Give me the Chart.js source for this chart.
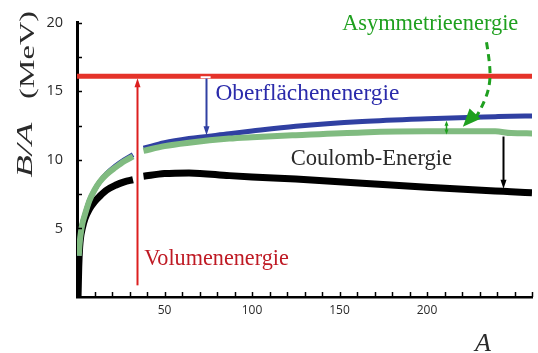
<!DOCTYPE html>
<html lang="de">
<head>
<meta charset="utf-8">
<title>Bindungsenergie pro Nukleon</title>
<script src="https://cdn.jsdelivr.net/npm/chart.js@4.4.1/dist/chart.umd.min.js"></script>
<style>
  html, body { margin: 0; padding: 0; background: #fff; }
  canvas { display: block; }
</style>
</head>
<body>
<canvas id="chartBA" width="538" height="353"></canvas>
<script>
/* ── Daten ──────────────────────────────────────────── */
var MASSENZAHL     = [0.6, 1, 1.5, 2, 3, 4.5, 7, 10, 13, 17, 22, 27, 32, 35, 38, 50, 64, 87, 100, 125, 163, 200, 239, 248, 260];
var GESAMT_BA      = [0, 2.2, 3.6, 4.3, 5.0, 5.7, 6.4, 6.95, 7.35, 7.8, 8.15, 8.4, 8.55, null, 8.8, 9.0, 9.05, 8.85, 8.75, 8.6, 8.3, 8.0, 7.73, 7.68, 7.6];
var OHNE_COULOMB   = [null, 3.0, 3.9, 4.5, 5.3, 6.0, 7.0, 7.8, 8.4, 8.95, 9.45, 9.9, 10.25, null, 10.65, 11.0, 11.25, 11.55, 11.65, 11.8, 12.0, 12.08, 12.08, 11.95, 11.93];
var VOL_OBERFLAECHE = [null, 3.0, 3.9, 4.5, 5.3, 6.0, 7.0, 7.8, 8.4, 9.0, 9.55, 10.0, 10.38, null, 10.85, 11.25, 11.55, 11.9, 12.1, 12.45, 12.8, 13.0, 13.15, 13.18, 13.2];
var VOLUMEN_A      = [0, 260];
var VOLUMEN_BA     = [16.1, 16.1];

var Y_LABELS = [5, 10, 15, 20];
var X_LABELS = [50, 100, 150, 200];

/* ── Farben ─────────────────────────────────────────── */
var ROT        = '#e5332a';
var ROT_PFEIL  = '#dc1f1f';
var ROT_TEXT   = '#bf1a24';
var BLAU       = '#3040a2';
var BLAU_TEXT  = '#2b2bab';
var GRUEN      = '#80bb80';
var GRUEN_HELL = '#1fa01f';
var SCHWARZ    = '#000000';
var TEXT       = '#2a2a2a';

/* ── Anmerkungen (in A / MeV) ───────────────────────── */
var PFEILE = [
    { a: 34.5,  von: 0.85,  bis: 15.95, farbe: ROT_PFEIL },
    { a: 73.5,  von: 15.95, bis: 11.8,  farbe: BLAU },
    { a: 243.5, von: 11.7,  bis: 7.9,   farbe: SCHWARZ }
];
var ASYM_PFAD = [[234.0, 18.58], [236.3, 16.81], [235.7, 15.25], [231.8, 13.97], [228.4, 13.19]];
var ASYM_SPITZE = [220.5, 12.41];

var BESCHRIFTUNG = [
    { text: 'Asymmetrieenergie',  a: 151.5, e: 19.86, farbe: GRUEN_HELL, groesse: 22.4 },
    { text: 'Oberflächenenergie', a: 79.1,  e: 14.82, farbe: BLAU_TEXT,  groesse: 23.4 },
    { text: 'Coulomb-Energie',    a: 122.1, e: 10.07, farbe: TEXT,       groesse: 22.6 },
    { text: 'Volumenenergie',     a: 38.4,  e: 2.77,  farbe: ROT_TEXT,   groesse: 22.2 }
];

var SERIF = '"Liberation Serif", "DejaVu Serif", serif';

function punkte(xs, ys) {
    return xs.map(function (a, i) { return { x: a, y: ys[i] }; });
}

/* ── Hilfsfunktionen zum Zeichnen ───────────────────── */
function pfeilSpitze(ctx, x0, y0, x1, y1, laenge, breite) {
    var ang = Math.atan2(y1 - y0, x1 - x0);
    ctx.beginPath();
    ctx.moveTo(x1, y1);
    ctx.lineTo(x1 - laenge * Math.cos(ang) + breite / 2 * Math.sin(ang),
               y1 - laenge * Math.sin(ang) - breite / 2 * Math.cos(ang));
    ctx.lineTo(x1 - laenge * Math.cos(ang) - breite / 2 * Math.sin(ang),
               y1 - laenge * Math.sin(ang) + breite / 2 * Math.cos(ang));
    ctx.closePath();
    ctx.fill();
}

var anmerkungen = {
    id: 'anmerkungen',
    afterDatasetsDraw: function (chart) {
        var ctx = chart.ctx, sx = chart.scales.x, sy = chart.scales.y;
        ctx.save();

        // senkrechte Pfeile
        PFEILE.forEach(function (p) {
            var x  = Math.round(sx.getPixelForValue(p.a)) + 0.5;
            var y0 = sy.getPixelForValue(p.von), y1 = sy.getPixelForValue(p.bis);
            var dir = y1 > y0 ? 1 : -1;
            ctx.strokeStyle = p.farbe;
            ctx.fillStyle = p.farbe;
            ctx.lineWidth = 2;
            ctx.beginPath();
            ctx.moveTo(x, y0);
            ctx.lineTo(x, y1 - dir * 6);
            ctx.stroke();
            pfeilSpitze(ctx, x, y0, x, y1, 9, 6);
        });

        // weisse Kerbe oben am Oberflaechen-Pfeil
        var xk = sx.getPixelForValue(PFEILE[1].a);
        ctx.fillStyle = '#ffffff';
        ctx.fillRect(xk - 5, sy.getPixelForValue(PFEILE[1].von) - 2, 10, 2);

        // kleiner Doppelpfeil (Asymmetrie)
        var xg = Math.round(sx.getPixelForValue(210.8)) + 0.5;
        var ya = sy.getPixelForValue(12.85), yb = sy.getPixelForValue(11.85);
        ctx.strokeStyle = GRUEN_HELL;
        ctx.fillStyle = GRUEN_HELL;
        ctx.lineWidth = 1.5;
        ctx.beginPath();
        ctx.moveTo(xg, ya + 3);
        ctx.lineTo(xg, yb - 3);
        ctx.stroke();
        pfeilSpitze(ctx, xg, yb, xg, ya, 5, 4);
        pfeilSpitze(ctx, xg, ya, xg, yb, 5, 4);

        // gestrichelter Bogen zur Asymmetrieenergie
        var pts = ASYM_PFAD.map(function (q) { return [sx.getPixelForValue(q[0]), sy.getPixelForValue(q[1])]; });
        ctx.strokeStyle = GRUEN_HELL;
        ctx.lineWidth = 3;
        ctx.setLineDash([7, 5]);
        ctx.beginPath();
        ctx.moveTo(pts[0][0], pts[0][1]);
        for (var i = 1; i < pts.length - 1; i++) {
            var mx = (pts[i][0] + pts[i + 1][0]) / 2, my = (pts[i][1] + pts[i + 1][1]) / 2;
            ctx.quadraticCurveTo(pts[i][0], pts[i][1], mx, my);
        }
        ctx.lineTo(pts[pts.length - 1][0], pts[pts.length - 1][1]);
        ctx.stroke();
        ctx.setLineDash([]);
        var last = pts[pts.length - 2];
        var tip = [sx.getPixelForValue(ASYM_SPITZE[0]), sy.getPixelForValue(ASYM_SPITZE[1])];
        pfeilSpitze(ctx, last[0], last[1], tip[0], tip[1], 18, 15);

        // Texte
        ctx.textAlign = 'left';
        ctx.textBaseline = 'middle';
        BESCHRIFTUNG.forEach(function (b) {
            ctx.font = b.groesse + 'px ' + SERIF;
            ctx.fillStyle = b.farbe;
            ctx.fillText(b.text, sx.getPixelForValue(b.a), sy.getPixelForValue(b.e));
        });

        ctx.restore();
    },
    afterDraw: function (chart) {
        var ctx = chart.ctx, sx = chart.scales.x, sy = chart.scales.y;
        ctx.save();

        // Teilstriche nach innen
        ctx.strokeStyle = SCHWARZ;
        ctx.lineWidth = 1.5;
        sx.ticks.forEach(function (t) {
            if (t.value <= 0) return;
            var px = Math.round(sx.getPixelForValue(t.value)) + 0.5;
            ctx.beginPath();
            ctx.moveTo(px, sx.top);
            ctx.lineTo(px, sx.top - 5);
            ctx.stroke();
        });
        sy.ticks.forEach(function (t) {
            if (t.value <= 0) return;
            var py = Math.round(sy.getPixelForValue(t.value)) + 0.5;
            ctx.beginPath();
            ctx.moveTo(sy.right, py);
            ctx.lineTo(sy.right + 5, py);
            ctx.stroke();
        });

        // Achsentitel y: "B/A  (MeV)"
        ctx.fillStyle = TEXT;
        ctx.textAlign = 'center';
        ctx.textBaseline = 'middle';
        function gedreht(text, font, cx, cy, laenge) {
            ctx.save();
            ctx.font = font;
            var w = ctx.measureText(text).width;
            ctx.translate(cx, cy);
            ctx.rotate(-Math.PI / 2);
            ctx.scale(laenge / w, 1);
            ctx.fillText(text, 0, 0);
            ctx.restore();
        }
        gedreht('(MeV)', '22px ' + SERIF, 28, 55, 88);
        gedreht('B/A', 'italic 23px ' + SERIF, 26, 150, 55);

        // Achsentitel x: "A"
        ctx.font = 'italic 26px ' + SERIF;
        ctx.textBaseline = 'alphabetic';
        ctx.fillText('A', 483, 351);

        ctx.restore();
    }
};

/* ── Diagramm ───────────────────────────────────────── */
new Chart(document.getElementById('chartBA'), {
    type: 'line',
    data: {
        datasets: [
            {
                label: 'Volumenenergie',
                data: punkte(VOLUMEN_A, VOLUMEN_BA),
                borderColor: ROT,
                borderWidth: 5
            },
            {
                label: 'ohne Coulomb',
                data: punkte(MASSENZAHL, OHNE_COULOMB),
                borderColor: GRUEN,
                borderWidth: 6,
                cubicInterpolationMode: 'monotone'
            },
            {
                label: 'Volumen + Oberfläche',
                data: punkte(MASSENZAHL, VOL_OBERFLAECHE),
                borderColor: BLAU,
                borderWidth: 5,
                cubicInterpolationMode: 'monotone'
            },
            {
                label: 'B/A',
                data: punkte(MASSENZAHL, GESAMT_BA),
                borderColor: SCHWARZ,
                borderWidth: 7,
                cubicInterpolationMode: 'monotone'
            }
        ]
    },
    options: {
        responsive: false,
        animation: false,
        layout: { padding: { left: 0, right: 1, top: 15, bottom: 0 } },
        elements: { point: { radius: 0 }, line: { borderCapStyle: 'butt' } },
        plugins: { legend: { display: false }, tooltip: { enabled: false } },
        scales: {
            x: {
                type: 'linear',
                min: 0,
                max: 260,
                afterFit: function (s) { s.height = 56; },
                grid: { drawOnChartArea: false, drawTicks: false },
                border: { color: SCHWARZ, width: 2.5 },
                ticks: {
                    stepSize: 10,
                    autoSkip: false,
                    maxRotation: 0,
                    padding: 6,
                    color: TEXT,
                    font: { family: '"Open Sans", sans-serif', size: 12 },
                    callback: function (v) { return X_LABELS.indexOf(v) >= 0 ? String(v) : ''; }
                }
            },
            y: {
                min: 0,
                max: 20,
                afterFit: function (s) { s.width = 77; },
                grid: { drawOnChartArea: false, drawTicks: false },
                border: { color: SCHWARZ, width: 3 },
                ticks: {
                    stepSize: 2.5,
                    autoSkip: false,
                    padding: 14,
                    color: TEXT,
                    font: { family: '"Open Sans", sans-serif', size: 14.5 },
                    callback: function (v) { return Y_LABELS.indexOf(v) >= 0 ? String(v) : ''; }
                }
            }
        }
    },
    plugins: [anmerkungen]
});
</script>
</body>
</html>
